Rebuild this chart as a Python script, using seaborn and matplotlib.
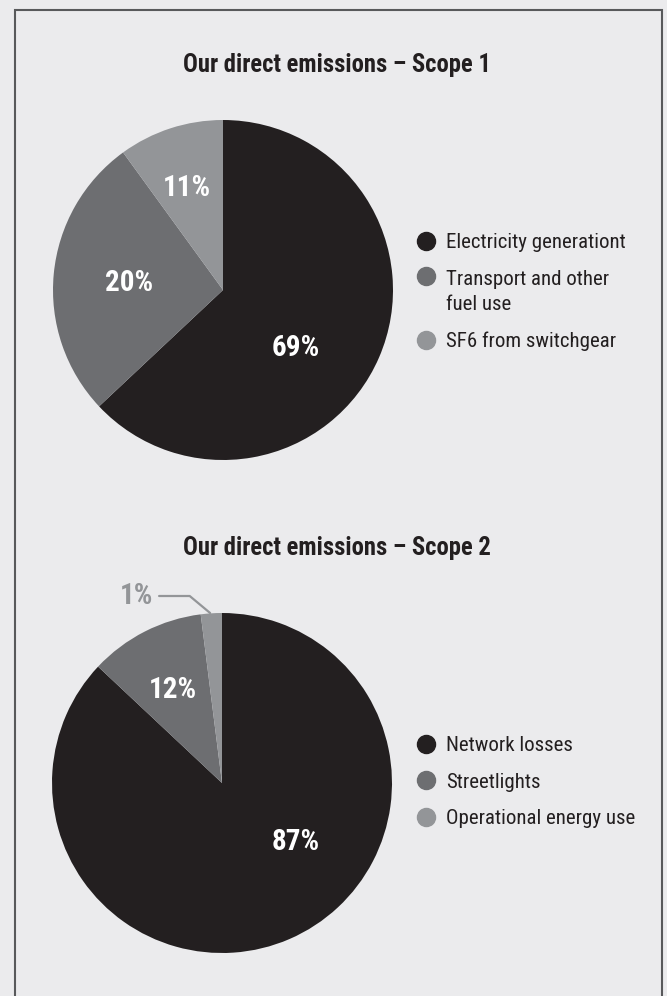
import numpy as np
import seaborn as sns
import matplotlib.pyplot as plt
from matplotlib.lines import Line2D
from matplotlib.patches import Rectangle
from matplotlib.legend_handler import HandlerLine2D

# data
scope1_names = ["Electricity generationt", "Transport and other\nfuel use", "SF6 from switchgear"]
scope1_share = [63, 27, 10]          # slice sizes as drawn
scope1_text = ["69%", "20%", "11%"]  # printed labels

scope2_names = ["Network losses", "Streetlights", "Operational energy use"]
scope2_share = [87, 11, 2]
scope2_text = ["87%", "12%", "1%"]

greys = ["#231f20", "#6d6e71", "#939598"]
bg = "#ebebed"

sns.set_theme(style="white", rc={"figure.facecolor": bg, "axes.facecolor": "none"})
plt.rcParams['font.family'] = ['Roboto Condensed', 'Liberation Sans Narrow', 'Roboto', 'DejaVu Sans']

W, H = 667, 996
fig = plt.figure(figsize=(W / 100, H / 100), dpi=100)
palette = sns.color_palette(greys)


class LiftedHandler(HandlerLine2D):
    # put the marker on the first line of a wrapped label
    def __init__(self, lift, **kw):
        super().__init__(**kw)
        self.lift = lift

    def create_artists(self, legend, orig_handle, xdescent, ydescent, width, height, fontsize, trans):
        arts = super().create_artists(legend, orig_handle, xdescent, ydescent, width, height, fontsize, trans)
        for a in arts:
            a.set_ydata(np.asarray(a.get_ydata(), dtype=float) + self.lift * fontsize)
        return arts


def px_axes(cx, cy, r):
    # axes box (in figure fraction) for a pie of radius r px centred at (cx, cy) px
    return fig.add_axes([(cx - r) / W, 1 - (cy + r) / H, 2 * r / W, 2 * r / H])


def draw_pie(ax, share, texts, label_pos):
    ax.pie(share, colors=palette, startangle=90, counterclock=False, radius=1,
           wedgeprops=dict(linewidth=0))
    ax.set_xlim(-1, 1)
    ax.set_ylim(-1, 1)
    ax.set_aspect('equal')
    ax.axis('off')
    for t, (x, y) in zip(texts, label_pos):
        ax.text(x, y, t, ha='center', va='center', color="white", fontsize=21, fontweight='bold')


def add_legend(names, top_y, lifted=None):
    handles = [Line2D([], [], marker='o', linestyle='', markersize=13, color=c) for c in palette]
    hmap = {}
    if lifted is not None:
        hmap[handles[lifted]] = LiftedHandler(0.75)
    leg = fig.legend(handles, names, loc='upper left', bbox_to_anchor=(416 / W, 1 - top_y / H),
                     frameon=False, fontsize=15, handlelength=0.93, handletextpad=0.5,
                     labelspacing=0.85, borderpad=0, borderaxespad=0, handler_map=hmap)
    for t in leg.get_texts():
        t.set_color("#231f20")
        t.set_linespacing(1.4)
    return leg


# Scope 1
fig.text(337 / W, 1 - 72 / H, "Our direct emissions \u2013 Scope 1", ha='center', va='baseline',
         fontsize=17.7, fontweight='bold', color="#231f20")
ax1 = px_axes(223, 290, 170)
draw_pie(ax1, scope1_share, scope1_text, [(0.43, -0.34), (-0.55, 0.04), (-0.21, 0.60)])
add_legend(scope1_names, 233, lifted=1)

# Scope 2
fig.text(337 / W, 1 - 555 / H, "Our direct emissions \u2013 Scope 2", ha='center', va='baseline',
         fontsize=17.7, fontweight='bold', color="#231f20")
ax2 = px_axes(222, 783, 170)
draw_pie(ax2, scope2_share, scope2_text[:2] + [""], [(0.435, -0.35), (-0.29, 0.55), (0, 0)])
ax2.text(-0.50, 1.10, scope2_text[2], ha='center', va='center', color=greys[2],
         fontsize=21, fontweight='bold', clip_on=False)
ax2.plot([-0.37, -0.19, -0.07], [1.10, 1.10, 1.0], color=greys[2], lw=1.6, clip_on=False)
add_legend(scope2_names, 736)

# panel border
fig.patches.append(Rectangle((15 / W, -0.01), (662 - 15) / W, 1 - 10 / H + 0.01,
                             transform=fig.transFigure, fill=False, edgecolor="#58595b", lw=1.5))

fig.savefig("out.png", dpi=100, facecolor=bg)
